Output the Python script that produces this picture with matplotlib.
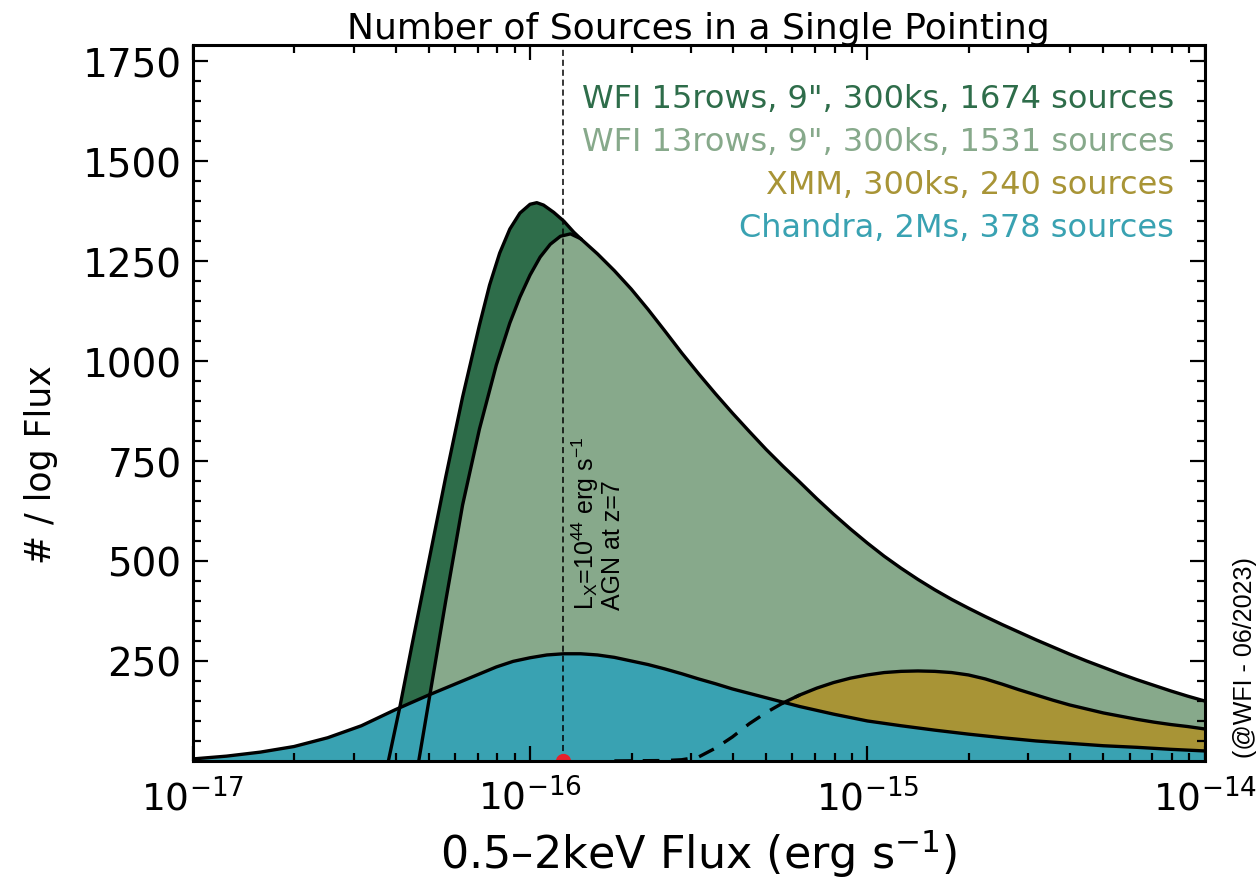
import numpy as np
import matplotlib
matplotlib.use('Agg')
import matplotlib.pyplot as plt
from matplotlib.ticker import FixedLocator, LogLocator, NullFormatter

matplotlib.rcParams.update({'mathtext.fontset': 'dejavusans',
                            'mathtext.rm': 'Liberation Sans',
                            'mathtext.it': 'Liberation Sans:italic'})

# log10 flux / number per log flux
chandra_lx = [-17.00, -16.90, -16.80, -16.70, -16.60, -16.50, -16.40, -16.30, -16.20,
              -16.10, -16.05, -16.00, -15.95, -15.90, -15.85, -15.80, -15.75, -15.70,
              -15.65, -15.60, -15.55, -15.50, -15.45, -15.40, -15.30, -15.20, -15.10,
              -15.00, -14.90, -14.80, -14.70, -14.60, -14.50, -14.40, -14.30, -14.20,
              -14.10, -14.00]
chandra_n = [5, 12, 22, 36, 58, 88, 128, 165, 200,
             235, 249, 258, 265, 268, 268, 265, 259, 250,
             241, 230, 218, 205, 193, 180, 158, 136, 117,
             100, 88, 77, 67, 58, 50, 44, 38, 34,
             29, 25]

wfi15_lx = [-16.42, -16.386, -16.35, -16.30, -16.25, -16.20, -16.15, -16.12, -16.09,
            -16.06, -16.03, -16.00, -15.98, -15.96, -15.93, -15.90, -15.87, -15.85]
wfi15_n = [0, 135, 290, 500, 710, 910, 1090, 1190, 1270,
           1330, 1370, 1392, 1396, 1390, 1372, 1350, 1322, 1306]

wfi13_lx = [-16.33, -16.30, -16.25, -16.20, -16.15, -16.10, -16.06, -16.03, -16.00,
            -15.97, -15.94, -15.91, -15.88, -15.85, -15.80, -15.75, -15.70, -15.65,
            -15.60, -15.55, -15.50, -15.45, -15.40, -15.35, -15.30, -15.25, -15.20,
            -15.15, -15.10, -15.05, -15.00, -14.95, -14.90, -14.85, -14.80, -14.75,
            -14.70, -14.65, -14.60, -14.55, -14.50, -14.45, -14.40, -14.35, -14.30,
            -14.25, -14.20, -14.15, -14.10, -14.05, -14.00]
wfi13_n = [0, 150, 400, 640, 830, 990, 1095, 1160, 1215,
           1260, 1292, 1312, 1318, 1306, 1268, 1226, 1180, 1129,
           1075, 1020, 968, 918, 870, 824, 779, 737, 697,
           656, 617, 580, 545, 512, 482, 454, 428, 404,
           382, 361, 341, 322, 303, 285, 267, 250, 234,
           218, 203, 189, 175, 162, 150]

xmm_lx = [-15.75, -15.60, -15.55, -15.50, -15.45, -15.40, -15.35, -15.30, -15.25,
          -15.20, -15.15, -15.10, -15.05, -15.00, -14.95, -14.90, -14.85, -14.80,
          -14.75, -14.70, -14.65, -14.60, -14.55, -14.50, -14.45, -14.40, -14.35,
          -14.30, -14.25, -14.20, -14.15, -14.10, -14.05, -14.00]
xmm_n = [0, 1, 3, 10, 32, 60, 93, 121, 145,
         165, 182, 196, 207, 215, 221, 224, 225, 224,
         221, 215, 205, 192, 178, 165, 152, 140, 130,
         120, 112, 104, 97, 91, 86, 80]

labels = ['WFI 15rows, 9", 300ks, 1674 sources',
          'WFI 13rows, 9", 300ks, 1531 sources',
          'XMM, 300ks, 240 sources',
          'Chandra, 2Ms, 378 sources']
colors = ['#2e6d4a', '#87a98b', '#a89436', '#39a2b2']
xticks = [1e-17, 1e-16, 1e-15, 1e-14]

agn_lx = -15.903

fig = plt.figure(figsize=(12.6, 8.87), dpi=100)
ax = fig.add_axes([0.153, 0.141, 0.803, 0.807])

def fill(lx, n, color):
    x = 10 ** np.array(lx)
    ax.fill_between(x, 0, n, color=color, lw=0)

lw = 2.4
fill(wfi15_lx, wfi15_n, colors[0])
ax.plot(10 ** np.array(wfi15_lx), wfi15_n, color='black', lw=lw)
fill(wfi13_lx, wfi13_n, colors[1])
ax.plot(10 ** np.array(wfi13_lx), wfi13_n, color='black', lw=lw)
fill(xmm_lx, xmm_n, colors[2])
fill(chandra_lx, chandra_n, colors[3])
ax.plot(10 ** np.array(chandra_lx), chandra_n, color='black', lw=lw)

# XMM outline: dashed where hidden under Chandra
xmm_x = np.array(xmm_lx)
xmm_y = np.array(xmm_n)
under = xmm_y < np.interp(xmm_x, chandra_lx, chandra_n)
k = np.argmin(under)
ax.plot(10 ** xmm_x[:k + 1], xmm_y[:k + 1], color='black', lw=lw, ls=(0, (5, 3.5)))
ax.plot(10 ** xmm_x[k - 1:], xmm_y[k - 1:], color='black', lw=lw)

ax.axvline(10 ** agn_lx, color='black', lw=1.1, ls=(0, (4, 2.5)))
ax.plot(10 ** agn_lx, 0, 'o', color='#e8202a', ms=10, clip_on=True, zorder=5)
ax.text(10 ** -15.802, 380,
        'L$_\\mathrm{X}$=10$^\\mathrm{44}$ erg s$^\\mathrm{-1}$\nAGN at z=7',
        rotation=90, ha='center', va='bottom', multialignment='left',
        linespacing=1.0, fontsize=18,
        family='Liberation Sans', math_fontfamily='custom')

for i, (lab, c) in enumerate(zip(labels, colors)):
    ax.text(0.970, 0.925 - 0.0597 * i, lab, color=c, fontsize=23,
            ha='right', va='center', transform=ax.transAxes)

ax.set_xscale('log')
ax.set_xlim(1e-17, 1e-14)
ax.set_ylim(0, 1790)
ax.set_yticks([250, 500, 750, 1000, 1250, 1500, 1750])
ax.yaxis.set_minor_locator(FixedLocator(np.arange(50, 1790, 50)))
ax.xaxis.set_major_locator(FixedLocator(xticks))
ax.xaxis.set_minor_locator(LogLocator(base=10, subs=np.arange(2, 10), numticks=10))
ax.xaxis.set_minor_formatter(NullFormatter())
ax.tick_params(which='both', direction='in', top=True, right=True, width=1.6)
ax.tick_params(which='major', length=11)
ax.tick_params(which='minor', length=5.5)
ax.tick_params(axis='y', labelsize=28, pad=8)
ax.tick_params(axis='x', labelsize=27, pad=12)
for s in ax.spines.values():
    s.set_linewidth(2.2)
    s.set_zorder(10)
ax.set_axisbelow(False)

ax.set_title('Number of Sources in a Single Pointing', fontsize=26, pad=5)
ax.set_xlabel(r'0.5–2keV Flux (erg s$^{-1}$)', fontsize=32, labelpad=6)
ax.set_ylabel('# / log Flux', fontsize=25)
ax.yaxis.set_label_coords(-0.133, 0.415)

fig.text(0.988, 0.145, '(@WFI - 06/2023)', rotation=90, ha='center', va='bottom',
         fontsize=18, family='Liberation Sans')

fig.savefig('out.png', dpi=100)
